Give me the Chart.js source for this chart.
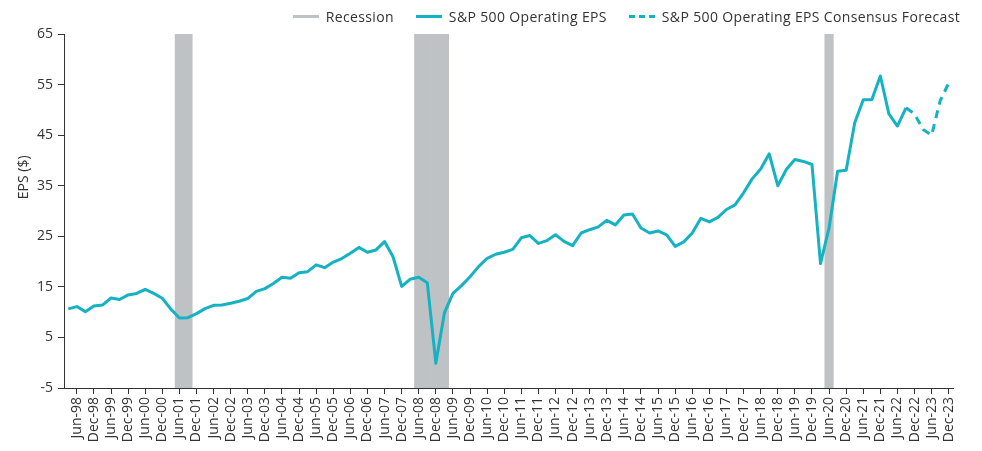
<!DOCTYPE html>
<html lang="en">
<head>
  <meta charset="UTF-8">
  <title>S&amp;P 500 Operating EPS</title>
  <style>
    * {
      margin: 0;
      padding: 0;
      box-sizing: border-box;
      font-family: "Open Sans", sans-serif;
    }

    body {
      width: 982px;
      height: 451px;
      background: #fff;
      overflow: hidden;
    }

    .wrap {
      position: relative;
      width: 982px;
      height: 451px;
    }

    .legend {
      position: absolute;
      top: 0;
      right: 22px;
      height: 32px;
      display: flex;
      align-items: center;
      gap: 22px;
      font-size: 14px;
      letter-spacing: 0.35px;
      color: #333;
      white-space: nowrap;
    }

    .legend .item {
      display: flex;
      align-items: center;
    }

    .legend .swatch {
      display: inline-block;
      width: 26px;
      height: 3px;
      margin-right: 7px;
    }
  </style>
</head>
<body>
  <div class="wrap">
    <div class="legend" id="legend"></div>
    <canvas id="chart"></canvas>
  </div>

  <script src="https://cdn.jsdelivr.net/npm/chart.js"></script>
  <script>
    // quarterly categories, Mar-98 .. Dec-23
    const years = [1998, 1999, 2000, 2001, 2002, 2003, 2004, 2005, 2006, 2007, 2008, 2009, 2010,
                   2011, 2012, 2013, 2014, 2015, 2016, 2017, 2018, 2019, 2020, 2021, 2022, 2023];
    const months = ['Mar', 'Jun', 'Sep', 'Dec'];
    const quarters = years.flatMap(y => months.map(m => m + '-' + String(y).slice(2)));

    // operating EPS, Mar-98 .. Sep-22
    const epsActual = [
      10.65, 11.1, 10.1, 11.2, 11.4, 12.8, 12.5, 13.4, 13.7, 14.5,
      13.7, 12.75, 10.6, 8.85, 8.9, 9.7, 10.7, 11.35, 11.4, 11.75,
      12.15, 12.7, 14.1, 14.65, 15.65, 16.9, 16.7, 17.8, 18.0, 19.35,
      18.8, 19.9, 20.6, 21.65, 22.8, 21.85, 22.3, 23.95, 20.9, 15.1,
      16.5, 16.9, 15.8, -0.1, 9.85, 13.7, 15.25, 17.0, 19.0, 20.65,
      21.45, 21.85, 22.4, 24.7, 25.15, 23.6, 24.15, 25.3, 24.0, 23.15,
      25.65, 26.3, 26.85, 28.15, 27.25, 29.2, 29.4, 26.65, 25.65, 26.05,
      25.3, 23.0, 23.9, 25.65, 28.55, 27.85, 28.75, 30.3, 31.2, 33.6,
      36.35, 38.3, 41.3, 35.0, 38.2, 40.2, 39.8, 39.2, 19.6, 26.65,
      37.85, 38.05, 47.4, 52.0, 52.0, 56.7, 49.2, 46.8, 50.4
    ];

    // consensus forecast, Sep-22 .. Dec-23
    const forecastStart = 'Sep-22';
    const epsForecast = [50.4, 49.2, 46.1, 45.0, 51.8, 55.3];

    const recessionQuarters = ['Jun-01', 'Sep-01', 'Jun-08', 'Sep-08', 'Dec-08', 'Mar-09', 'Jun-20'];

    const yMin = -5;
    const yMax = 65;
    const yStep = 10;

    const teal = '#14b2c2';
    const grey = '#bfc2c4';
    const textColor = '#333';
    const font = { family: '"Open Sans", sans-serif', size: 14 };

    const fStart = quarters.indexOf(forecastStart);
    const actualData = quarters.map((q, i) => i < epsActual.length ? epsActual[i] : null);
    const forecastData = quarters.map((q, i) => i >= fStart && i < fStart + epsForecast.length ? epsForecast[i - fStart] : null);
    const recessionData = quarters.map(q => recessionQuarters.includes(q) ? [yMin, yMax] : null);

    const showLabel = q => q.startsWith('Jun') || q.startsWith('Dec');

    // legend (html)
    const legendItems = [
      { text: 'Recession', bg: grey },
      { text: 'S&P 500 Operating EPS', bg: teal },
      { text: 'S&P 500 Operating EPS Consensus Forecast', bg: `repeating-linear-gradient(to right, ${teal} 0 6px, transparent 6px 10px)` }
    ];
    const legendEl = document.getElementById('legend');
    legendItems.forEach(item => {
      const span = document.createElement('span');
      span.className = 'item';
      const sw = document.createElement('i');
      sw.className = 'swatch';
      sw.style.background = item.bg;
      span.appendChild(sw);
      span.appendChild(document.createTextNode(item.text));
      legendEl.appendChild(span);
    });

    // y axis title sits a bit above centre in the original
    const yTitle = {
      id: 'yTitle',
      afterDraw(chart) {
        const { ctx, chartArea } = chart;
        ctx.save();
        ctx.fillStyle = textColor;
        ctx.font = '14px "Open Sans", sans-serif';
        ctx.textAlign = 'center';
        ctx.textBaseline = 'middle';
        ctx.translate(24, chartArea.top + chartArea.height * 0.405);
        ctx.rotate(-Math.PI / 2);
        ctx.fillText('EPS ($)', 0, 0);
        ctx.restore();
      }
    };

    new Chart(document.getElementById('chart'), {
      type: 'line',
      data: {
        labels: quarters,
        datasets: [
          {
            type: 'bar',
            label: 'Recession',
            data: recessionData,
            backgroundColor: grey,
            barPercentage: 1,
            categoryPercentage: 1,
            grouped: false,
            order: 3
          },
          {
            label: 'S&P 500 Operating EPS',
            data: actualData,
            borderColor: teal,
            borderWidth: 3,
            borderJoinStyle: 'round',
            pointRadius: 0,
            tension: 0,
            order: 2
          },
          {
            label: 'S&P 500 Operating EPS Consensus Forecast',
            data: forecastData,
            borderColor: teal,
            borderWidth: 3,
            borderDash: [8, 6],
            borderJoinStyle: 'round',
            pointRadius: 0,
            tension: 0,
            order: 1
          }
        ]
      },
      options: {
        responsive: true,
        maintainAspectRatio: false,
        animation: false,
        layout: {
          padding: { top: 34, right: 29, bottom: 0, left: 0 }
        },
        plugins: {
          legend: { display: false },
          tooltip: { enabled: false }
        },
        scales: {
          x: {
            type: 'category',
            offset: true,
            afterFit: s => { s.height = 63; },
            grid: {
              offset: false,
              drawOnChartArea: false,
              tickLength: 6,
              color: c => showLabel(quarters[c.index] || '') ? textColor : 'rgba(0,0,0,0)'
            },
            border: { color: textColor, width: 1 },
            ticks: {
              autoSkip: false,
              maxRotation: 90,
              minRotation: 90,
              padding: 3,
              color: textColor,
              font: font,
              callback: function (val, i) {
                const q = quarters[i];
                return showLabel(q) ? q : '';
              }
            }
          },
          y: {
            min: yMin,
            max: yMax,
            afterFit: s => { s.width = 64; },
            grid: {
              drawOnChartArea: false,
              tickLength: 6,
              color: textColor
            },
            border: { color: textColor, width: 1 },
            ticks: {
              stepSize: yStep,
              padding: 5,
              color: textColor,
              font: font
            }
          }
        }
      },
      plugins: [yTitle]
    });
  </script>
</body>
</html>
